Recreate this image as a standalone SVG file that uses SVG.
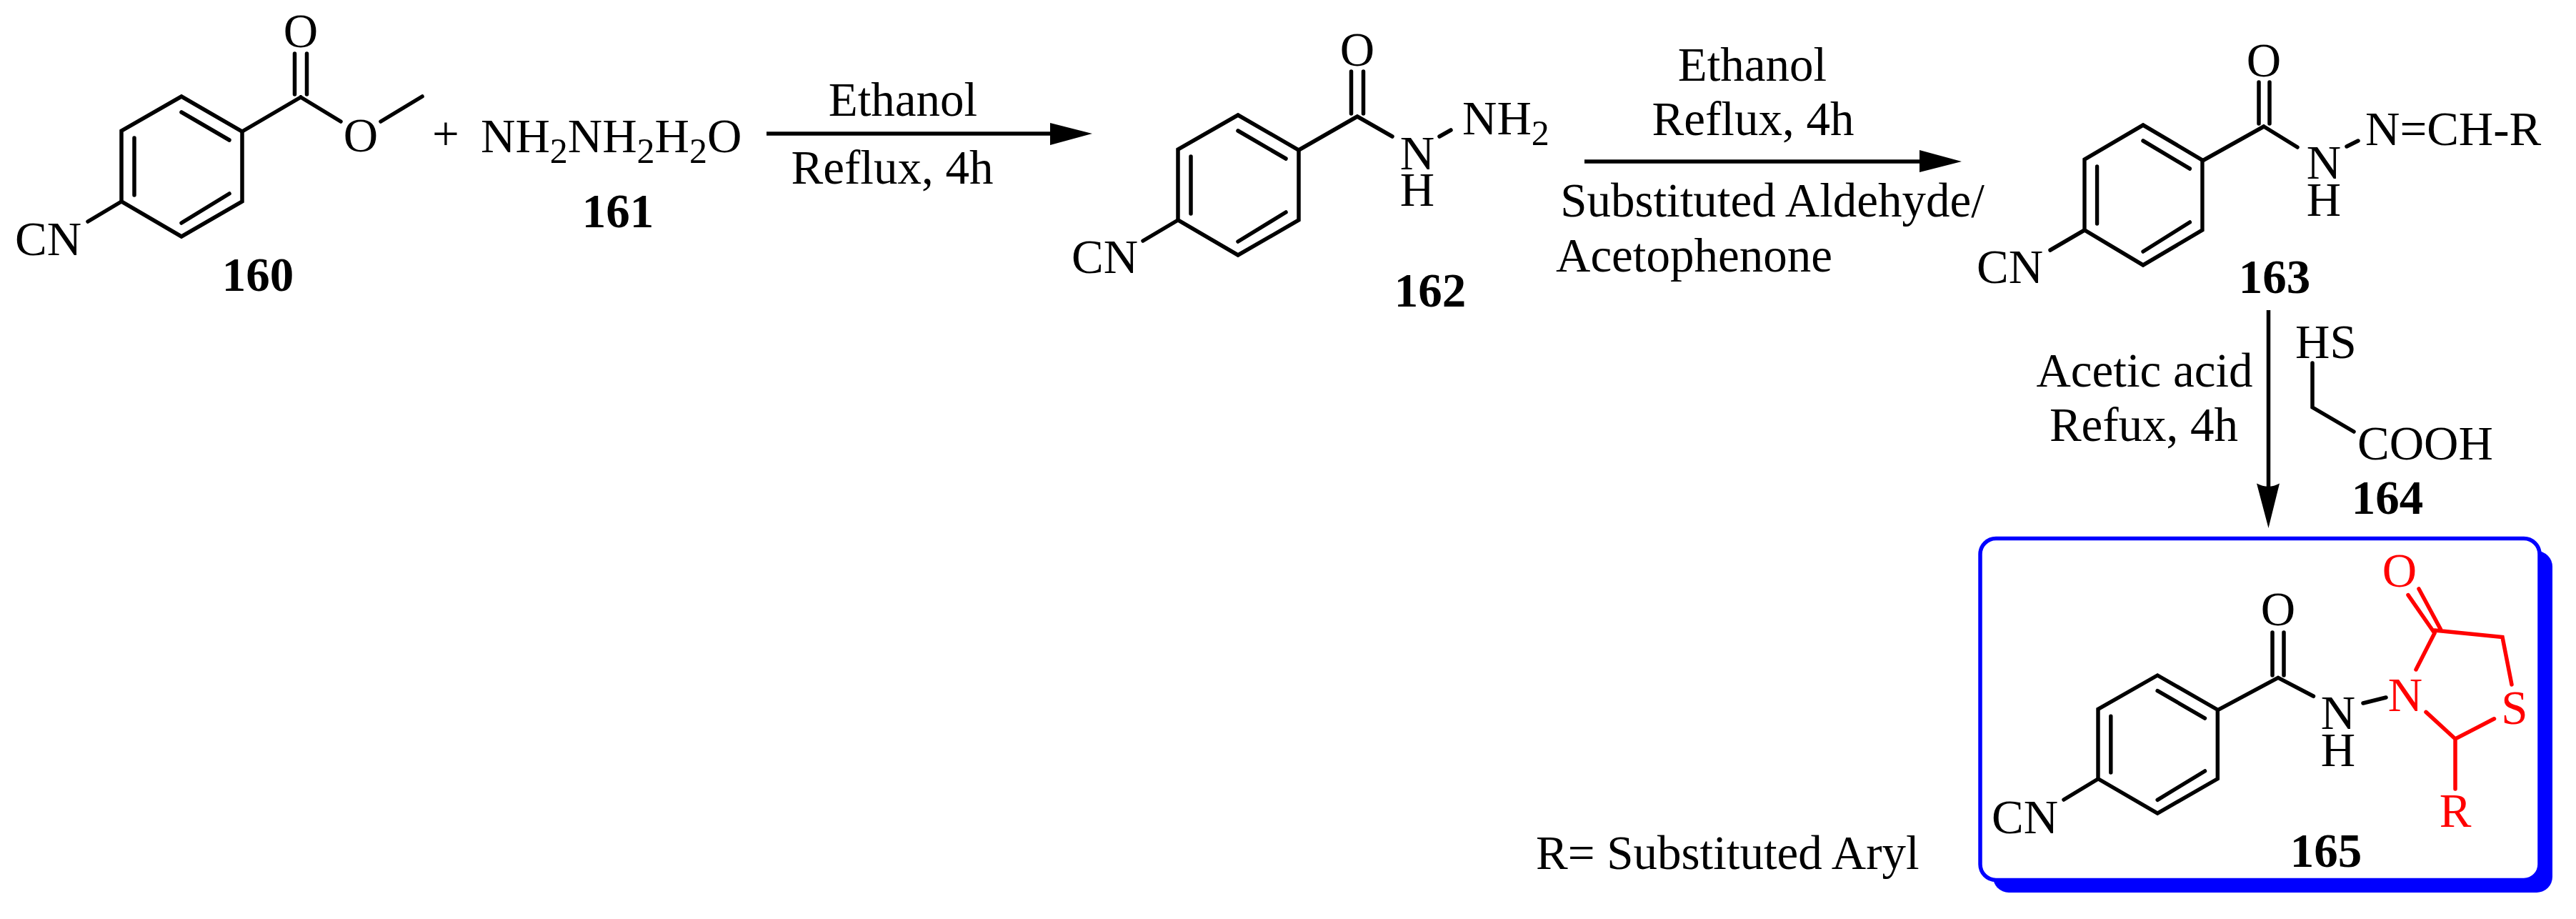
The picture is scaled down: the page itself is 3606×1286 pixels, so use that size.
<svg xmlns="http://www.w3.org/2000/svg" width="3606" height="1286" viewBox="0 0 3606 1286">
<defs><style>
text{font-family:"Liberation Serif","Times New Roman",serif;font-size:67px;fill:#000}
.b{font-weight:bold}
.m{text-anchor:middle}
.r{fill:#f00}
.s{font-size:50px}
.bond{fill:none;stroke:#000;stroke-width:5.500;stroke-linecap:round;stroke-linejoin:miter}
.red{stroke:#f00}
.arr{fill:none;stroke:#000;stroke-width:5.500}
.head{fill:#000;stroke:none}
</style>
<path id="benz" class="bond" d="M84 0L169 49V147L84 196L0 147V48ZM84 22L151 61M18 58V138M84 177L151 136"/>
</defs>
<rect width="3606" height="1286" fill="#fff"/>
<g id="connectors">
<path class="arr" d="M1073 187H1475"/><path class="head" d="M1529 187L1470 172V203Z"/>
<path class="arr" d="M2218 226H2692"/><path class="head" d="M2746 226L2687 210V241Z"/>
<path class="arr" d="M3175.500 434V685"/><path class="head" d="M3175.500 739L3159 676.500Q3175.500 685 3191 676.500Z"/>
</g>
<g id="reagents">
<text class="m" x="1264" y="162">Ethanol</text>
<text class="m" x="1249" y="257">Reflux, 4h</text>
<text class="m" x="2453" y="113">Ethanol</text>
<text class="m" x="2454" y="189">Reflux, 4h</text>
<text class="m" x="2481" y="303">Substituted Aldehyde/</text>
<text x="2178" y="380">Acetophenone</text>
<text class="m" x="3002" y="541">Acetic acid</text>
<text class="m" x="3001" y="617">Refux, 4h</text>
<text x="2150" y="1216">R= Substituted Aryl</text>
</g>
<g id="node-160">
<use href="#benz" x="170" y="135"/>
<path class="bond" d="M339 184L421 136M412.500 75V132M429.500 75V132M421 136L477 170M533 170L591 135M170 282L123 310"/>
<text class="m" x="421" y="66">O</text><text class="m" x="505" y="212">O</text>
<text x="21" y="357">CN</text>
<text class="m b" x="361" y="407">160</text>
</g>
<text id="plus" class="m" x="624" y="210">+</text>
<g id="node-161">
<text x="673" y="213">NH<tspan class="s" dy="15">2</tspan><tspan dy="-15">NH</tspan><tspan class="s" dy="15">2</tspan><tspan dy="-15">H</tspan><tspan class="s" dy="15">2</tspan><tspan dy="-15">O</tspan></text>
<text class="m b" x="865" y="318">161</text>
</g>
<g id="node-162">
<use href="#benz" x="1649" y="161"/>
<path class="bond" d="M1818 210L1900 163M1891.500 100V159M1908.500 100V159M1900 163L1949 191M2015 191L2031 182M1649 308L1600 337"/>
<text class="m" x="1900" y="92">O</text>
<text class="m" x="1984" y="237">N</text><text class="m" x="1984" y="288">H</text>
<text x="2047" y="188">NH<tspan class="s" dy="15">2</tspan></text>
<text x="1500" y="382">CN</text>
<text class="m b" x="2002" y="429">162</text>
</g>
<g id="node-163">
<use href="#benz" transform="translate(2918 175) scale(.976 1)"/>
<path class="bond" d="M3083 225L3169 177M3162 115V173M3177 115V173M3169 177L3216 206M3285 205L3301 197M2918 322L2870 350"/>
<text class="m" x="3169" y="107">O</text>
<text class="m" x="3253" y="250">N</text><text class="m" x="3253" y="302">H</text>
<text x="3311" y="203">N=CH-R</text>
<text x="2767" y="396">CN</text>
<text class="m b" x="3184" y="410">163</text>
</g>
<g id="node-164">
<path class="bond" d="M3237 508V570L3295 604"/>
<text x="3213" y="501">HS</text>
<text x="3300" y="643">COOH</text>
<text class="m b" x="3342" y="719">164</text>
</g>
<g id="node-165">
<rect x="2790" y="771" width="783" height="478" rx="22" fill="#00f"/>
<rect x="2772" y="753.500" width="783" height="478" rx="22" fill="#fff" stroke="#00f" stroke-width="5.500"/>
<use href="#benz" transform="translate(2937 945) scale(.99 .985)"/>
<path class="bond" d="M3104.500 993.600L3189 948.400M3181 885V945M3197 885V945M3189 948.400L3238.500 974.300M3308 984L3340 976M2937 1090L2889 1119"/>
<path class="bond red" d="M3382 937L3408 886M3371 832.600L3408 886M3386 824L3416.500 880.600M3408 882L3503 891.600L3516 958M3491.500 1005.800L3437 1034L3396 996.400M3437 1034V1104"/>
<text class="m" x="3189" y="875">O</text>
<text class="m" x="3273" y="1020">N</text><text class="m" x="3273" y="1072">H</text>
<text class="m r" x="3359" y="821">O</text>
<text class="m r" x="3367" y="995">N</text>
<text class="m r" x="3520" y="1013">S</text>
<text class="m r" x="3437" y="1157">R</text>
<text x="2788" y="1166">CN</text>
<text class="m b" x="3256" y="1213">165</text>
</g>
</svg>
